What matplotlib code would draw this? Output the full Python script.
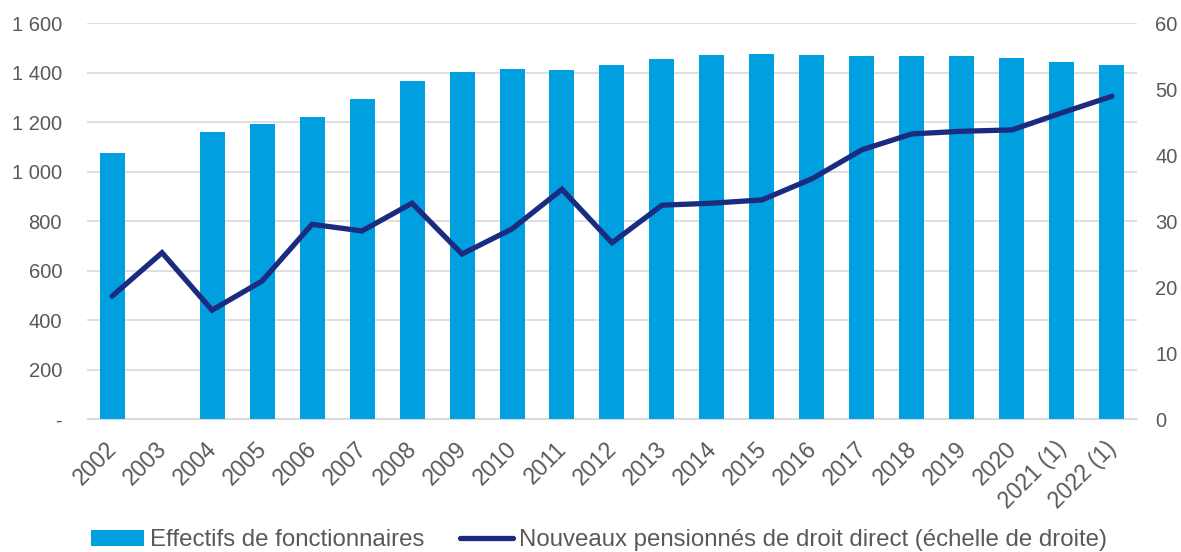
import numpy as np
import matplotlib.pyplot as plt
import matplotlib.transforms as mtransforms
from matplotlib.ticker import FuncFormatter

plt.rcParams['font.family'] = ['Liberation Sans', 'DejaVu Sans']

annees = ["2002", "2003", "2004", "2005", "2006", "2007", "2008", "2009", "2010",
          "2011", "2012", "2013", "2014", "2015", "2016", "2017", "2018", "2019",
          "2020", "2021 (1)", "2022 (1)"]
# effectifs (milliers), pas de valeur en 2003
effectifs = [1075, np.nan, 1160, 1192, 1220, 1293, 1366, 1402, 1414, 1410, 1430,
             1454, 1471, 1474, 1471, 1467, 1468, 1467, 1458, 1442, 1430]
# nouveaux pensionnés (milliers)
pensionnes = [18.6, 25.2, 16.5, 20.9, 29.5, 28.5, 32.7, 25.0, 28.8, 34.8, 26.7,
              32.4, 32.7, 33.2, 36.4, 40.8, 43.2, 43.6, 43.8, 46.4, 48.9]

bleu = '#009FDF'
marine = '#1B2C80'
gris = '#595959'

fig = plt.figure(figsize=(11.81, 5.52), dpi=100)
ax = fig.add_axes([0.0737, 0.2409, 0.889, 0.7174])
ax2 = ax.twinx()

x = np.arange(len(annees))
ax.bar(x, effectifs, width=0.5, color=bleu, label="Effectifs de fonctionnaires", zorder=2)
ax2.plot(x, pensionnes, color=marine, lw=3.8, solid_capstyle='round',
         solid_joinstyle='miter', label="Nouveaux pensionnés de droit direct (échelle de droite)")

ax.set_xlim(-0.5, len(annees) - 0.5)
ax.set_ylim(0, 1600)
ax2.set_ylim(0, 60)
ax.set_yticks(np.arange(0, 1601, 200))
ax2.set_yticks(np.arange(0, 61, 10))

def milliers(v, pos):
    if v == 0:
        return "-"
    return f"{int(v):,}".replace(",", " ")

ax.yaxis.set_major_formatter(FuncFormatter(milliers))
ax.grid(axis='y', color='#D9D9D9', lw=1.2, zorder=0)
ax.set_axisbelow(True)

ax.set_xticks(x)
ax.set_xticklabels(annees, rotation=45, ha='right', rotation_mode='anchor')

for a in (ax, ax2):
    for s in a.spines.values():
        s.set_visible(False)
    a.tick_params(length=0, labelsize=14.5, colors=gris)
ax.spines['bottom'].set_visible(True)
ax.spines['bottom'].set_color('#D9D9D9')
ax.tick_params(axis='y', pad=18)
ax.tick_params(axis='x', pad=13, labelsize=16.5)
ax2.tick_params(axis='y', pad=13)

# léger décalage des années vers la gauche
decal = mtransforms.ScaledTranslation(-5 / 72, 0, fig.dpi_scale_trans)
for lab in ax.get_xticklabels():
    lab.set_transform(lab.get_transform() + decal)

h1, l1 = ax.get_legend_handles_labels()
h2, l2 = ax2.get_legend_handles_labels()
leg = fig.legend(h1 + h2, l1 + l2, loc='center', bbox_to_anchor=(0.507, 0.021),
                 ncol=2, frameon=False, fontsize=17.25, handlelength=2.2,
                 handletextpad=0.25, columnspacing=1.5, borderpad=0)
for t in leg.get_texts():
    t.set_color(gris)

fig.savefig("out.png", dpi=100)
